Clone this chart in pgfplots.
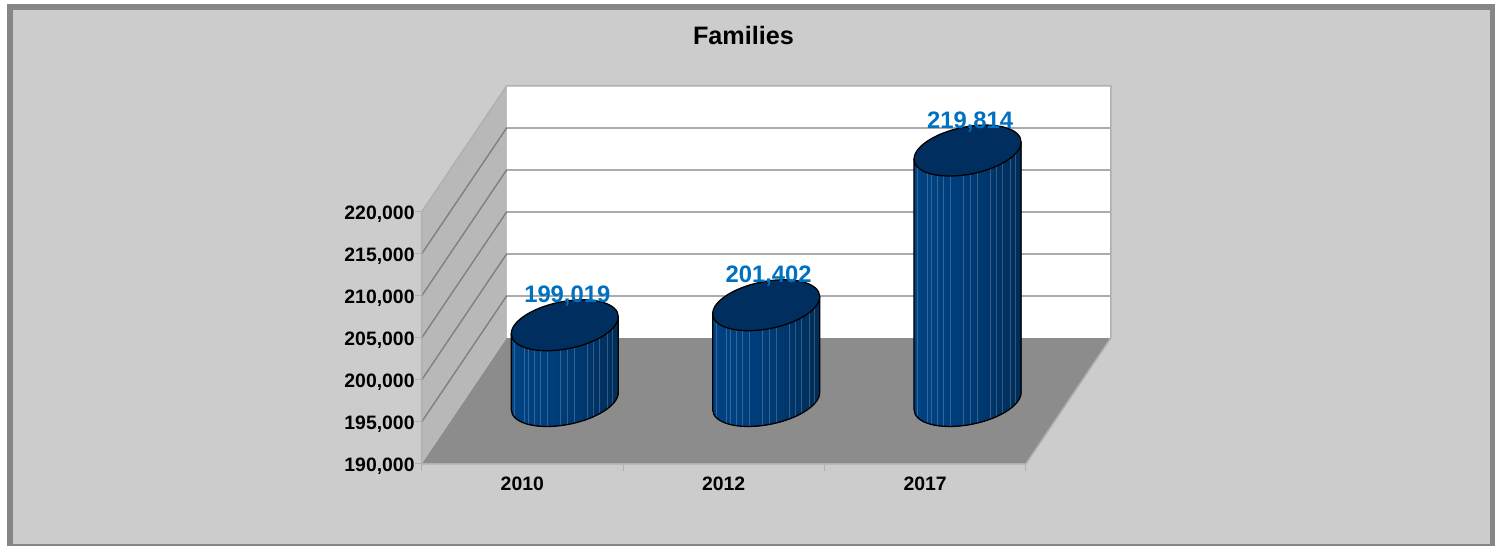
\documentclass[border=0pt]{standalone}
\usepackage{fontspec}
\setmainfont{Liberation Sans}
\usepackage{pgfplots}
\usepackage{pgfplotstable}
\pgfplotsset{compat=1.18}

\definecolor{panel}{HTML}{CCCCCC}
\definecolor{framegray}{HTML}{868686}
\definecolor{wallgray}{HTML}{B8B8B8}
\definecolor{edgegray}{HTML}{B0B0B0}
\definecolor{floorgray}{HTML}{8C8C8C}
\definecolor{gridgray}{HTML}{808080}
\definecolor{labelblue}{HTML}{0070C0}
\definecolor{capblue}{HTML}{002E5E}
\definecolor{barleft}{HTML}{004282}
\definecolor{barmid}{HTML}{003A75}
\definecolor{barright}{HTML}{002C56}

\pgfplotstableread{
pos val
0   199019
1   201402
2   219814
}\families

% empty mark, the cylinder is drawn in the scatter marker code
\pgfdeclareplotmark{nothing}{}

% slanted unit vector gives the tilted ellipses
\newcommand{\cylinder}[1]{%
  \begin{scope}[x={(1bp,0.159bp)},y={(0bp,1bp)}]
    \begin{scope}
      \clip (-53.5,0) -- (-53.5,-#1) arc[start angle=180,end angle=360,x radius=53.5,y radius=24] -- (53.5,0) -- cycle;
      \fill[barmid] (-54,-#1-40) rectangle (54,30);
      \foreach \sx/\sc in {-54/barleft,-45/barleft!90!barmid,-36/barleft!75!barmid,-27/barleft!60!barmid,-18/barleft!45!barmid,-9/barleft!25!barmid,0/barmid,9/barmid!85!barright,18/barmid!70!barright,27/barmid!50!barright,36/barmid!35!barright,45/barmid!15!barright}
        \fill[\sc] (\sx,-#1-40) rectangle (\sx+9.2,30);
      \foreach \sx in {-50,-40,-36,-30,-24,-17,-4,3,10,23,29,35,43,48}
        \draw[line width=0.7bp,white,opacity=0.2] (\sx,-#1-40) -- (\sx,30);
    \end{scope}
    \draw[line width=1.3bp,black] (-53.5,0) -- (-53.5,-#1) arc[start angle=180,end angle=360,x radius=53.5,y radius=24] -- (53.5,0);
    \filldraw[fill=capblue,draw=black,line width=1.3bp] (0,0) ellipse[x radius=53.5,y radius=24];
  \end{scope}%
}

\begin{document}
\begin{tikzpicture}
\path[use as bounding box] (0,0) rectangle (1501bp,546bp);
\fill[framegray] (7bp,0) rectangle (1495bp,542bp);
\fill[panel] (13bp,2bp) rectangle (1490bp,536bp);

\begin{axis}[
    at={(0,0)},
    anchor=south west,
    scale only axis,
    width=1501bp,
    height=546bp,
    hide axis,
    clip=false,
    xmin=-2.8044,
    xmax=4.6485,
    ymin=172738.1,
    ymax=237738.1,
    unbounded coords=jump,
    /pgf/number format/assume math mode=true,
]

% floor and walls, the value axis is read at mid depth (front -7500, back +7500)
\addplot[fill=floorgray,draw=none] coordinates {
    (-0.711,182500) (2.289,182500) (2.711,197500) (-0.289,197500)} -- cycle;
\addplot[fill=wallgray,draw=none] coordinates {
    (-0.711,182500) (-0.289,197500) (-0.289,227500) (-0.711,212500)} -- cycle;
\addplot[fill=white,draw=none] coordinates {
    (-0.289,197500) (2.711,197500) (2.711,227500) (-0.289,227500)} -- cycle;

% grid lines on both walls
\addplot[gridgray,line width=1.4bp] coordinates {
    (-0.711,187500) (-0.289,202500) (2.711,202500) (nan,nan)
    (-0.711,192500) (-0.289,207500) (2.711,207500) (nan,nan)
    (-0.711,197500) (-0.289,212500) (2.711,212500) (nan,nan)
    (-0.711,202500) (-0.289,217500) (2.711,217500) (nan,nan)
    (-0.711,207500) (-0.289,222500) (2.711,222500)
};

% light edges and ticks
\addplot[edgegray,line width=1.5bp] coordinates {
    (2.711,197500) (2.711,227500) (-0.289,227500) (-0.711,212500) (-0.711,182500) (2.289,182500) (2.711,197500)
};
\addplot[edgegray,line width=1bp] coordinates {
    (-0.742,182500) (-0.711,182500) (nan,nan)
    (-0.742,187500) (-0.711,187500) (nan,nan)
    (-0.742,192500) (-0.711,192500) (nan,nan)
    (-0.742,197500) (-0.711,197500) (nan,nan)
    (-0.742,202500) (-0.711,202500) (nan,nan)
    (-0.742,207500) (-0.711,207500) (nan,nan)
    (-0.742,212500) (-0.711,212500) (nan,nan)
    (-0.711,181700) (-0.711,182500) (nan,nan)
    (0.289,181700) (0.289,182500) (nan,nan)
    (1.289,181700) (1.289,182500) (nan,nan)
    (2.289,181700) (2.289,182500)
};

% cylinders
\addplot[
    scatter,
    only marks,
    mark=nothing,
    point meta=\thisrow{val},
    visualization depends on={(\thisrow{val}-190000)*0.0084 \as \cylh},
    scatter/@pre marker code/.code={\cylinder{\cylh}},
    scatter/@post marker code/.code={},
] table[x=pos,y=val] {\families};

% value labels above the cylinders
\addplot[
    only marks,
    mark=nothing,
    point meta=\thisrow{val},
    nodes near coords={\pgfmathprintnumber[fixed,precision=0,1000 sep={,},assume math mode=true]{\pgfplotspointmeta}},
    nodes near coords style={
        anchor=center,xshift=2.5bp,yshift=29bp,text=labelblue,
        font=\fontsize{23.8bp}{26bp}\selectfont\bfseries,
    },
] table[x=pos,y=val] {\families};

% value labels on the front of the left wall
\begin{scope}[font=\fontsize{19.4bp}{22bp}\selectfont\bfseries]
\node[anchor=mid east,xshift=-3.5bp,yshift=-4.5bp] at (axis cs:-0.711,182500) {190,000};
\node[anchor=mid east,xshift=-3.5bp,yshift=-4.5bp] at (axis cs:-0.711,187500) {195,000};
\node[anchor=mid east,xshift=-3.5bp,yshift=-4.5bp] at (axis cs:-0.711,192500) {200,000};
\node[anchor=mid east,xshift=-3.5bp,yshift=-4.5bp] at (axis cs:-0.711,197500) {205,000};
\node[anchor=mid east,xshift=-3.5bp,yshift=-4.5bp] at (axis cs:-0.711,202500) {210,000};
\node[anchor=mid east,xshift=-3.5bp,yshift=-4.5bp] at (axis cs:-0.711,207500) {215,000};
\node[anchor=mid east,xshift=-3.5bp,yshift=-4.5bp] at (axis cs:-0.711,212500) {220,000};
\node[anchor=mid,yshift=-4.5bp] at (axis cs:-0.211,180240) {2010};
\node[anchor=mid,yshift=-4.5bp] at (axis cs:0.789,180240) {2012};
\node[anchor=mid,yshift=-4.5bp] at (axis cs:1.789,180240) {2017};
\end{scope}
\node[anchor=mid,yshift=-6bp,font=\fontsize{25.2bp}{28bp}\selectfont\bfseries] at (axis cs:0.887,233450) {Families};

\end{axis}
\end{tikzpicture}
\end{document}
